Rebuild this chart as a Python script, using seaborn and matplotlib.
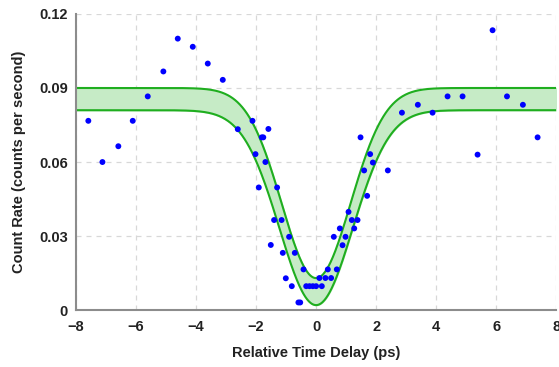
import numpy as np
import pandas as pd
import matplotlib
matplotlib.use("Agg")
import matplotlib.pyplot as plt
import seaborn as sns

# measured coincidence counts vs relative delay
delay_ps = [-7.59, -7.12, -6.59, -6.11, -5.61, -5.09, -4.61, -4.11, -3.61, -3.11,
            -2.61, -2.12, -1.59, -1.81, -1.76, -2.02, -1.69, -1.91, -1.30,
            -1.40, -1.15, -1.51, -0.90, -1.11, -0.71, -0.42, -1.01, -0.81,
            -0.59, -0.53, -0.33, -0.22, -0.11, 0.00, 0.19, 0.11, 0.31, 0.50,
            0.39, 0.69, 0.88, 0.59, 0.98, 0.79, 1.27, 1.19, 1.38, 1.08, 1.70,
            1.60, 2.39, 1.89, 1.80, 1.48, 2.86, 3.39, 3.88, 4.38, 4.88, 5.38,
            5.88, 6.36, 6.89, 7.38]
count_rate = [0.0767, 0.0600, 0.0664, 0.0767, 0.0866, 0.0967, 0.1100, 0.1067, 0.0999, 0.0933,
              0.0733, 0.0767, 0.0734, 0.0700, 0.0700, 0.0632, 0.0600, 0.0497, 0.0497,
              0.0365, 0.0365, 0.0264, 0.0297, 0.0232, 0.0232, 0.0165, 0.0129, 0.0097,
              0.0031, 0.0031, 0.0097, 0.0097, 0.0097, 0.0097, 0.0097, 0.0130, 0.0130, 0.0130,
              0.0165, 0.0165, 0.0263, 0.0297, 0.0297, 0.0331, 0.0331, 0.0365, 0.0365, 0.0398, 0.0463,
              0.0566, 0.0566, 0.0598, 0.0632, 0.0700, 0.0800, 0.0832, 0.0800, 0.0866, 0.0866, 0.0630,
              0.1134, 0.0866, 0.0832, 0.0700]

# fitted dip band (upper / lower bound)
upper_base, upper_vis, upper_width = 0.090, 0.856, 1.15
lower_base, lower_vis, lower_width = 0.081, 0.975, 1.22

xticks = [-8, -6, -4, -2, 0, 2, 4, 6, 8]
yticks = [0, 0.03, 0.06, 0.09, 0.12]
ytick_labels = ["0", "0.03", "0.06", "0.09", "0.12"]

t = np.linspace(-8, 8, 801)
upper = upper_base * (1 - upper_vis * np.exp(-t**2 / (2 * upper_width**2)))
lower = lower_base * (1 - lower_vis * np.exp(-t**2 / (2 * lower_width**2)))
fit = pd.DataFrame({"t": t, "upper": upper, "lower": lower})
pts = pd.DataFrame({"delay": delay_ps, "rate": count_rate})

sns.set_style("white")
plt.rcParams["font.family"] = ["Liberation Sans", "DejaVu Sans"]

fig = plt.figure(figsize=(5.59, 3.67), dpi=100)
ax = fig.add_axes([0.136, 0.155, 0.859, 0.807])

ax.fill_between(fit["t"], fit["lower"], fit["upper"], color="#c6ebc6", zorder=1)
sns.lineplot(data=fit, x="t", y="upper", color="#1fae1f", linewidth=1.5, ax=ax, zorder=2)
sns.lineplot(data=fit, x="t", y="lower", color="#1fae1f", linewidth=1.5, ax=ax, zorder=2)
sns.scatterplot(data=pts, x="delay", y="rate", color="#0000ff", s=18,
                edgecolor="none", ax=ax, zorder=3)

ax.set_xlim(-8, 8)
ax.set_ylim(0, 0.12)
ax.set_xticks(xticks)
ax.set_xticklabels([str(v).replace("-", "\u2212") for v in xticks])
ax.set_yticks(yticks)
ax.set_yticklabels(ytick_labels)
ax.grid(True, color="#d8d8d8", linestyle=(0, (4, 4)), linewidth=0.9)
ax.set_axisbelow(True)

for side in ["top", "right"]:
    ax.spines[side].set_visible(False)
for side in ["left", "bottom"]:
    ax.spines[side].set_color("#8c8c8c")
    ax.spines[side].set_linewidth(1.5)
ax.tick_params(axis="both", direction="out", length=3, width=1, color="#8c8c8c",
               labelsize=10.5, labelcolor="#222222")
ax.tick_params(axis="x", pad=4)
ax.tick_params(axis="y", pad=3)
for lbl in ax.get_xticklabels() + ax.get_yticklabels():
    lbl.set_fontweight("bold")

ax.set_xlabel("Relative Time Delay (ps)", fontsize=10.5, fontweight="bold",
              color="#222222", labelpad=9)
ax.set_ylabel("Count Rate (counts per second)", fontsize=10.5, fontweight="bold",
              color="#222222", labelpad=9)

fig.savefig("out.png", dpi=100)
